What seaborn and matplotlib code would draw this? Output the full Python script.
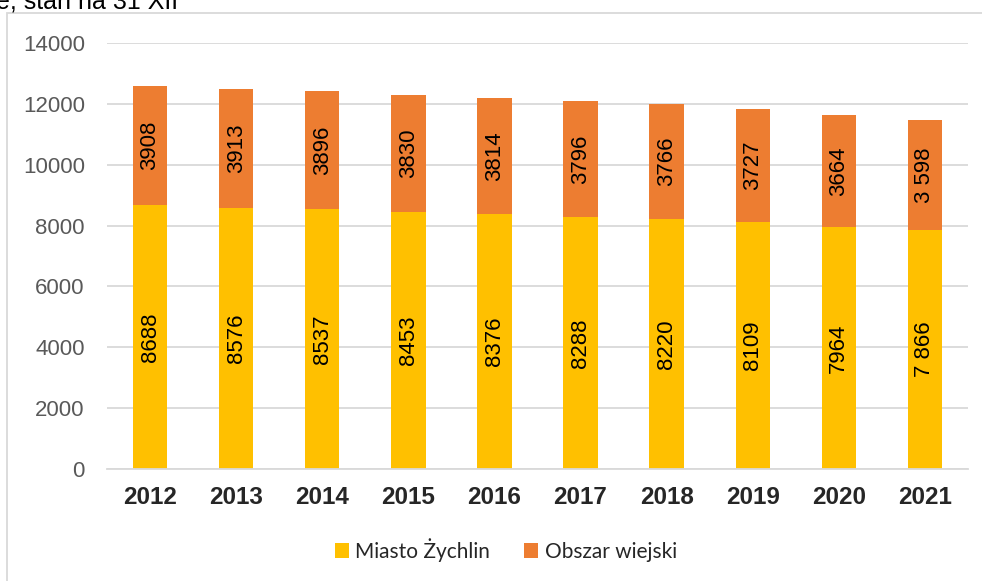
import matplotlib
matplotlib.use("Agg")
import matplotlib.pyplot as plt
import seaborn as sns
import pandas as pd
from matplotlib.patches import Rectangle

# data
years = ["2012", "2013", "2014", "2015", "2016", "2017", "2018", "2019", "2020", "2021"]
miasto = [8688, 8576, 8537, 8453, 8376, 8288, 8220, 8109, 7964, 7866]
obszar = [3908, 3913, 3896, 3830, 3814, 3796, 3766, 3727, 3664, 3598]
miasto_labels = ["8688", "8576", "8537", "8453", "8376", "8288", "8220", "8109", "7964", "7 866"]
obszar_labels = ["3908", "3913", "3896", "3830", "3814", "3796", "3766", "3727", "3664", "3 598"]

sns.set_style("white")
plt.rcParams["font.family"] = ["Liberation Sans", "DejaVu Sans"]

df = pd.DataFrame({"rok": years, "miasto": miasto, "obszar": obszar})

fig = plt.figure(figsize=(9.82, 5.81), dpi=100)
ax = fig.add_axes([0.109, 0.1928, 0.8767, 0.7332])

sns.barplot(data=df, x="rok", y="miasto", color="#FFC000", width=0.4,
            saturation=1, linewidth=0, label="Miasto Żychlin", ax=ax)
sns.barplot(data=df, x="rok", y="obszar", color="#ED7D31", width=0.4,
            saturation=1, linewidth=0, bottom=df["miasto"].values,
            label="Obszar wiejski", ax=ax)

ax.bar_label(ax.containers[0], labels=miasto_labels, label_type="center",
             rotation=90, fontsize=16, color="black")
ax.bar_label(ax.containers[1], labels=obszar_labels, label_type="center",
             rotation=90, fontsize=16, color="black")

ax.set_ylim(0, 14000)
ax.set_xlim(-0.5, 9.5)
ax.set_yticks(range(0, 14001, 2000))
ax.yaxis.grid(True, color="#D9D9D9", linewidth=1.3)
ax.set_axisbelow(True)
for s in ["top", "right", "left"]:
    ax.spines[s].set_visible(False)
ax.spines["bottom"].set_color("#D9D9D9")
ax.spines["bottom"].set_linewidth(1.3)
ax.tick_params(axis="y", length=0, pad=16, labelsize=16, labelcolor="#595959")
ax.tick_params(axis="x", length=0, pad=12, labelsize=17.5)
for t in ax.get_xticklabels():
    t.set_fontweight("bold")
ax.set_xlabel("")
ax.set_ylabel("")

leg = ax.legend(loc="center", bbox_to_anchor=(0.463, -0.19), ncol=2, frameon=False,
                handlelength=0.7, handleheight=0.7, handletextpad=0.3, columnspacing=1.6,
                prop={"family": ["Lato", "DejaVu Sans"], "size": 15})

# outer chart border (clipped by the image edge)
fig.patches.append(Rectangle((7 / 982, -0.1), 1.2, 1 - 13 / 581 + 0.1,
                             transform=fig.transFigure, fill=False,
                             edgecolor="#D9D9D9", linewidth=1.3))

# title, partly cut off at the top edge
fig.text(-4 / 982, 1 - 8 / 581, "e, stan na 31 XII", fontsize=18, color="black",
         ha="left", va="baseline")

fig.savefig("out.png", dpi=100)
